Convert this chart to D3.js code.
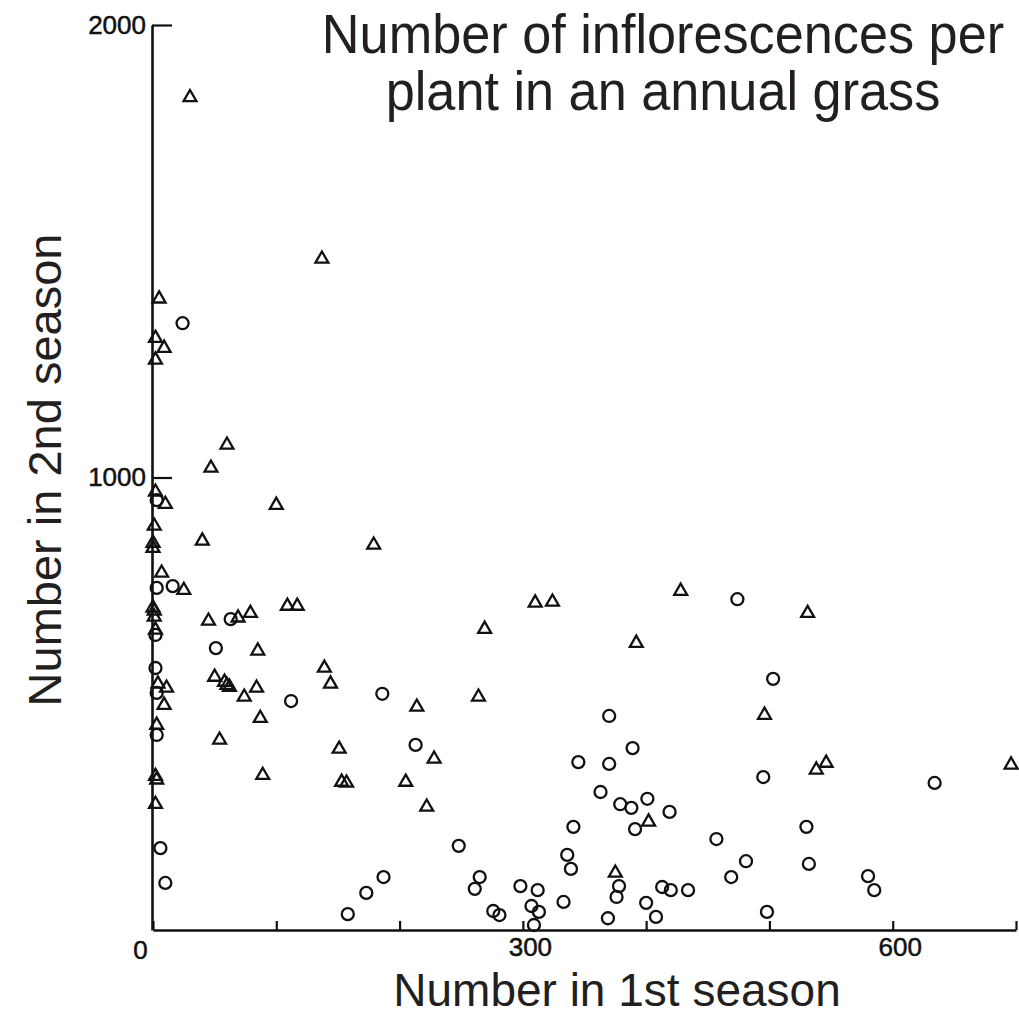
<!DOCTYPE html>
<html>
<head>
<meta charset="utf-8">
<script src="https://cdn.jsdelivr.net/npm/d3@7"></script>
<style>
  html, body { margin: 0; padding: 0; background: #fff; }
  svg { display: block; }
</style>
</head>
<body>
<svg id="chart" width="1019" height="1016"></svg>
<script>
// Inflorescences per plant: [1st season, 2nd season]
const triangles = [
  [30,1840],[137,1483],[5,1395],[2,1308],[9,1286],[2,1260],
  [60,1072],[47,1021],[2,968],[10,941],[100,939],[1,893],[40,860],
  [0,855],[0,844],[179,851],[7,789],[25,751],[109,716],[117,716],
  [45,683],[69,690],[79,700],[0,712],[1,705],[1,692],[2,663],[85,617],
  [50,559],[58,548],[60,541],[62,537],[84,535],[74,515],[4,544],[11,535],
  [9,497],[3,453],[54,420],[87,468],[2,340],[3,332],[89,342],[2,278],
  [139,579],[144,544],[151,400],[153,327],[157,325],[205,327],[214,493],
  [228,378],[222,272],[264,515],[269,665],[310,723],[324,725],[428,749],
  [392,634],[531,700],[496,475],[538,354],[546,369],[696,365],[402,239],
  [375,126]
];
const circles = [
  [24,1341],[3,950],[3,756],[16,760],[2,652],[63,687],[51,623],[2,579],
  [3,524],[3,431],[112,506],[186,522],[213,409],[6,181],[10,104],
  [158,35],[173,82],[187,117],[248,186],[265,117],[261,91],[276,42],
  [281,33],[298,97],[312,88],[307,53],[313,40],[309,11],[336,166],
  [339,135],[333,62],[474,731],[503,555],[370,473],[389,402],[345,371],
  [370,367],[495,338],[363,305],[379,278],[388,270],[401,290],[419,261],
  [391,223],[341,228],[457,201],[530,228],[481,152],[532,146],[469,117],
  [378,97],[376,73],[413,95],[420,88],[434,88],[400,60],[369,26],
  [408,29],[498,40],[634,325],[580,119],[585,88]
];
const xTicks = [0,100,200,300,400,500,600,700];
const xLabelled = [0,300,600];
const yTicks = [1000,2000];
const titleLines = ["Number of inflorescences per", "plant in an annual grass"];
const xTitle = "Number in 1st season";
const yTitle = "Number in 2nd season";

const svg = d3.select("#chart");
const x = d3.scaleLinear().domain([0,700]).range([153,1016]);
const y = d3.scaleLinear().domain([0,2000]).range([930,25]);

const tickFont = "'Liberation Sans', Arial, sans-serif";
const textFont = "'Liberation Sans', Arial, sans-serif";

function styleTickText(sel) {
  sel.attr("font-family", tickFont).attr("font-size", 26)
    .attr("fill", "#111").attr("stroke", "#111").attr("stroke-width", 0.5);
}

// x axis, ticks pointing up into the plot
const gx = svg.append("g")
  .attr("transform", `translate(0,${y(0)})`)
  .call(d3.axisBottom(x)
    .tickValues(xTicks)
    .tickSizeInner(-9)
    .tickSizeOuter(0)
    .tickPadding(8)
    .tickFormat(d => xLabelled.includes(d) ? String(d) : ""));
gx.select(".domain").attr("stroke", "#111").attr("stroke-width", 2.6);
gx.selectAll(".tick line").attr("stroke", "#111").attr("stroke-width", 2.2);
gx.selectAll(".tick text")
  .call(styleTickText)
  .attr("dx", d => d === 0 ? -13 : 7)
  .attr("dy", d => d === 0 ? "0.8em" : "0.71em");

// y axis, ticks pointing right into the plot
const gy = svg.append("g")
  .attr("transform", `translate(${x(0) - 1},0)`)
  .call(d3.axisLeft(y)
    .tickValues(yTicks)
    .tickSizeInner(-20)
    .tickSizeOuter(0)
    .tickPadding(6)
    .tickFormat(d3.format("d")));
gy.select(".domain").attr("stroke", "#111").attr("stroke-width", 2.6);
gy.selectAll(".tick line").attr("stroke", "#111").attr("stroke-width", 2.2);
gy.selectAll(".tick text").call(styleTickText);

// data marks
const plot = svg.append("g")
  .attr("fill", "none").attr("stroke", "#111").attr("stroke-width", 2.3);

plot.selectAll("path.tri")
  .data(triangles)
  .join("path")
  .attr("class", "tri")
  .attr("d", d3.symbol().type(d3.symbolTriangle).size(72))
  .attr("transform", d => `translate(${x(d[0])},${y(d[1])})`);

plot.selectAll("circle")
  .data(circles)
  .join("circle")
  .attr("cx", d => x(d[0]))
  .attr("cy", d => y(d[1]))
  .attr("r", 6);

// titles (slightly condensed face)
const title = svg.append("g").attr("transform", "translate(663,0) scale(0.95,1)");
title.selectAll("text")
  .data(titleLines)
  .join("text")
  .attr("x", 0)
  .attr("y", (d, i) => 53 + i * 57)
  .attr("text-anchor", "middle")
  .attr("font-family", textFont).attr("font-size", 55).attr("fill", "#231f20")
  .text(d => d);

svg.append("text")
  .attr("x", 617).attr("y", 1006)
  .attr("text-anchor", "middle")
  .attr("font-family", textFont).attr("font-size", 46).attr("fill", "#231f20")
  .text(xTitle);

svg.append("text")
  .attr("transform", "translate(61,470) rotate(-90)")
  .attr("text-anchor", "middle")
  .attr("font-family", textFont).attr("font-size", 47).attr("fill", "#231f20")
  .text(yTitle);
</script>
</body>
</html>
